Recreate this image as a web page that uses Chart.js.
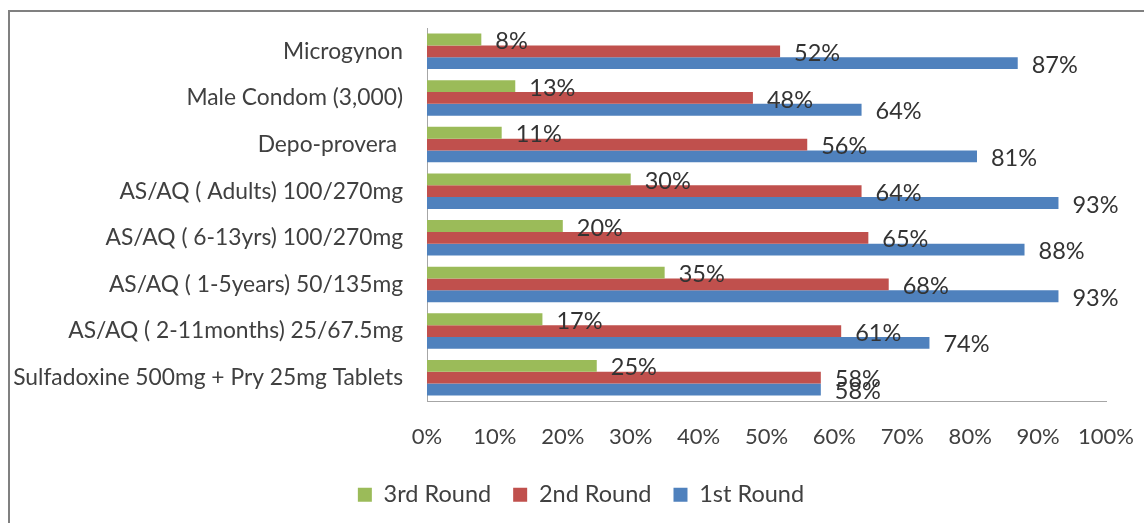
<!DOCTYPE html>
<html>
<head>
<meta charset="utf-8">
<script src="https://cdn.jsdelivr.net/npm/chart.js@4"></script>
<style>
  html, body { margin: 0; padding: 0; background: #fff; }
  #wrap { position: relative; width: 1144px; height: 523px; overflow: hidden; }
  #frame { position: absolute; left: 8px; top: 10px; width: 1200px; height: 600px;
           border-top: 2px solid #808080; border-left: 2px solid #808080; box-sizing: border-box; }
  canvas { position: absolute; left: 0; top: 0; }
</style>
</head>
<body>
<div id="wrap">
  <div id="frame"></div>
  <canvas id="c" width="1144" height="523"></canvas>
</div>
<script>
const categories = [
  "Microgynon",
  "Male Condom (3,000)",
  "Depo-provera ",
  "AS/AQ ( Adults) 100/270mg",
  "AS/AQ ( 6-13yrs) 100/270mg",
  "AS/AQ ( 1-5years) 50/135mg",
  "AS/AQ ( 2-11months) 25/67.5mg",
  "Sulfadoxine 500mg + Pry 25mg Tablets"
];
const round3 = [8, 13, 11, 30, 20, 35, 17, 25];
const round2 = [52, 48, 56, 64, 65, 68, 61, 58];
const round1 = [87, 64, 81, 93, 88, 93, 74, 58];
const seriesNames = ["3rd Round", "2nd Round", "1st Round"];
const xTicks = [0, 10, 20, 30, 40, 50, 60, 70, 80, 90, 100];

const FONT = "Lato, 'Open Sans', sans-serif";
const TXT = "#404040";

const labelPlugin = {
  id: "valueLabels",
  afterLayout(chart) {
    if (chart.legend) { chart.legend.left += 28; chart.legend.right += 28; }
  },
  afterDatasetsDraw(chart) {
    const ctx = chart.ctx;
    ctx.save();
    ctx.font = "23.5px " + FONT;
    ctx.fillStyle = "#333333";
    ctx.textAlign = "left";
    ctx.textBaseline = "middle";
    chart.data.datasets.forEach((ds, i) => {
      const meta = chart.getDatasetMeta(i);
      meta.data.forEach((el, j) => {
        ctx.fillText(ds.data[j] + "%", el.x + 14, el.y + 2);
      });
    });
    ctx.restore();
  }
};

new Chart(document.getElementById("c"), {
  type: "bar",
  data: {
    labels: categories,
    datasets: [
      { label: seriesNames[0], data: round3, backgroundColor: "#9BBB59" },
      { label: seriesNames[1], data: round2, backgroundColor: "#C0504D" },
      { label: seriesNames[2], data: round1, backgroundColor: "#4F81BD" }
    ]
  },
  options: {
    indexAxis: "y",
    responsive: false,
    animation: false,
    devicePixelRatio: 1,
    layout: { padding: { top: 28, right: 38, bottom: 6.5, left: 0 } },
    datasets: { bar: { categoryPercentage: 0.76, barPercentage: 1.0 } },
    scales: {
      x: {
        min: 0, max: 100,
        afterBuildTicks(scale) { scale.ticks = xTicks.map(v => ({ value: v })); },
        ticks: { callback: v => v + "%", font: { family: FONT, size: 22 }, color: TXT, padding: 23, maxRotation: 0, autoSkip: false },
        grid: { display: false, drawTicks: false },
        border: { display: true, color: "#a6a6a6", width: 1 },
        afterFit(scale) { scale.height = 60; scale.paddingLeft = 0; scale.paddingRight = 0; }
      },
      y: {
        ticks: { font: { family: FONT, size: 22.8 }, color: TXT, padding: 24, autoSkip: false },
        grid: { display: false, drawTicks: false },
        border: { display: true, color: "#a6a6a6", width: 1 },
        afterFit(scale) { scale.width = 427; scale.paddingTop = 0; scale.paddingBottom = 0; }
      }
    },
    plugins: {
      legend: {
        position: "bottom",
        labels: { font: { family: FONT, size: 23.5 }, color: TXT, boxWidth: 14, boxHeight: 14, padding: 22 }
      },
      tooltip: { enabled: false }
    }
  },
  plugins: [labelPlugin]
});
</script>
</body>
</html>
